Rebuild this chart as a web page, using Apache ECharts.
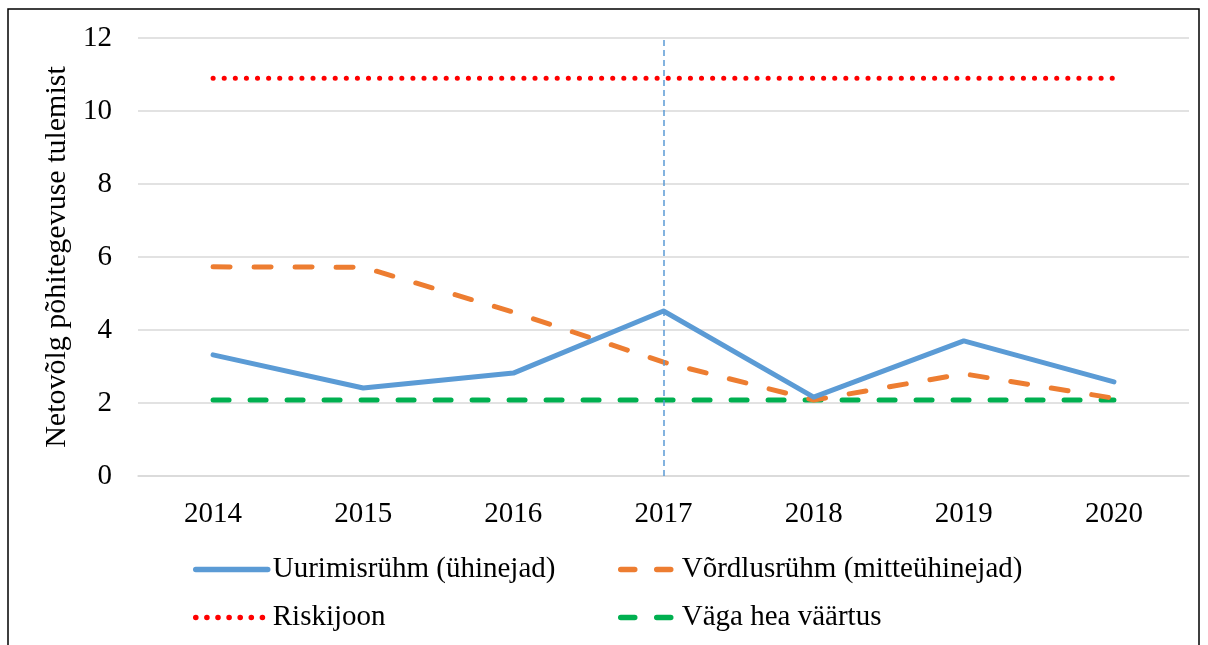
<!DOCTYPE html>
<html><head><meta charset="utf-8">
<script src="https://cdn.jsdelivr.net/npm/echarts@6/dist/echarts.min.js"></script>
<style>html,body{margin:0;padding:0;background:#fff}#c{width:1208px;height:645px}</style>
</head><body><div id="c"></div>
<script>
const categories = ['2014','2015','2016','2017','2018','2019','2020'];
const uurimis = [3.32, 2.41, 2.82, 4.52, 2.16, 3.70, 2.58];
const vordlus = [5.73, 5.72, 4.49, 3.12, 2.08, 2.80, 2.13];
const riski = [10.9, 10.9, 10.9, 10.9, 10.9, 10.9, 10.9];
const vagaHea = [2.08, 2.08, 2.08, 2.08, 2.08, 2.08, 2.08];
const names = ['Uurimisrühm (ühinejad)', 'Võrdlusrühm (mitteühinejad)', 'Riskijoon', 'Väga hea väärtus'];
const yTitle = 'Netovõlg põhitegevuse tulemist';

const font = 'Liberation Serif';
const C = {blue: '#5B9BD5', orange: '#ED7D31', red: '#FF0000', green: '#00B050'};
const styles = [
  {color: C.blue, width: 5, type: 'solid', cap: 'round', join: 'round'},
  {color: C.orange, width: 5, type: [17, 24], cap: 'round'},
  {color: C.red, width: 5, type: [0.1, 11], cap: 'round'},
  {color: C.green, width: 5, type: [16, 21], cap: 'round'}
];
const legendItem = (i, ls) => ({name: names[i], itemStyle: {opacity: 0}, lineStyle: Object.assign({}, styles[i], {width: 5.5}, ls || {})});
const legendText = {fontFamily: font, fontSize: 29, color: '#000', lineHeight: 31};

const chart = echarts.init(document.getElementById('c'));
chart.setOption({
  animation: false,
  textStyle: {fontFamily: font},
  graphic: [{type: 'rect', shape: {x: 8, y: 9, width: 1191, height: 700}, style: {fill: 'none', stroke: '#000', lineWidth: 1.5}, silent: true}],
  grid: {left: 138, right: 19, top: 38, bottom: 169},
  legend: [
    {data: [legendItem(0), legendItem(2)], orient: 'vertical', left: 193, top: 554, padding: 0, itemWidth: 72, itemHeight: 14, itemGap: 17, itemTextGap: 5,
     textStyle: legendText},
    {data: [legendItem(1, {type: [14, 22]}), legendItem(3, {type: [14, 22]})], orient: 'vertical', left: 618, top: 554, padding: 0, itemWidth: 56, itemHeight: 14, itemGap: 17, itemTextGap: 11,
     textStyle: legendText}
  ],
  xAxis: {type: 'category', data: categories, boundaryGap: true,
    axisLine: {show: true, lineStyle: {color: '#D9D9D9', width: 1.5}}, axisTick: {show: false},
    axisLabel: {fontFamily: font, fontSize: 29, color: '#000', margin: 24}},
  yAxis: {type: 'value', min: 0, max: 12, interval: 2, name: yTitle, nameLocation: 'middle', nameGap: 54, nameRotate: 90,
    nameTextStyle: {fontFamily: font, fontSize: 30, color: '#000'},
    axisLine: {show: false}, axisTick: {show: false},
    axisLabel: {fontFamily: font, fontSize: 29, color: '#000', margin: 26},
    splitLine: {lineStyle: {color: '#D9D9D9', width: 1.5}}},
  series: [
    {name: names[0], type: 'line', data: uurimis, symbol: 'none', z: 4,
     lineStyle: styles[0], itemStyle: {color: C.blue},
     markLine: {silent: true, symbol: 'none', label: {show: false}, data: [{xAxis: '2017'}],
       lineStyle: {color: C.blue, width: 1.5, type: [6, 4]}}},
    {name: names[1], type: 'line', data: vordlus, symbol: 'none', z: 3, lineStyle: styles[1], itemStyle: {color: C.orange}},
    {name: names[2], type: 'line', data: riski, symbol: 'none', z: 2, lineStyle: styles[2], itemStyle: {color: C.red}},
    {name: names[3], type: 'line', data: vagaHea, symbol: 'none', z: 2, lineStyle: styles[3], itemStyle: {color: C.green}}
  ]
});
</script></body></html>
